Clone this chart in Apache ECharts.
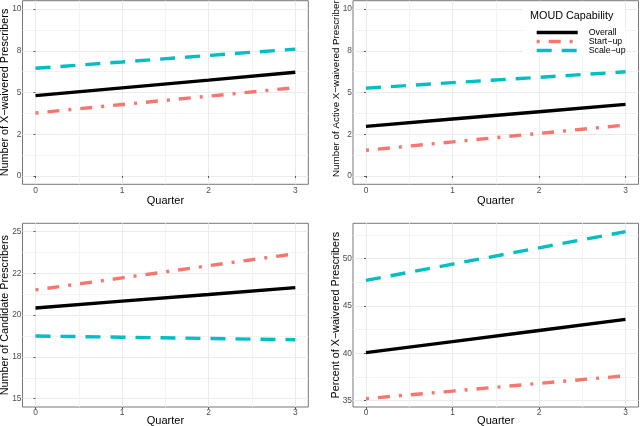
<!DOCTYPE html>
<html>
<head>
<meta charset="utf-8">
<script src="https://cdn.jsdelivr.net/npm/echarts@6/dist/echarts.min.js"></script>
<style>html,body{margin:0;padding:0;background:#fff;}#c{width:640px;height:426px;}</style>
</head>
<body>
<div id="c"></div>
<script>
const quarters = [0, 1, 2, 3];
const seriesNames = ['Overall', 'Start\u2212up', 'Scale\u2212up'];

const p1Overall = [4.81, 5.28, 5.74, 6.21];
const p1Start   = [3.77, 4.28, 4.78, 5.29];
const p1Scale   = [6.45, 6.83, 7.22, 7.60];

const p2Overall = [2.97, 3.41, 3.85, 4.29];
const p2Start   = [1.54, 2.04, 2.55, 3.05];
const p2Scale   = [5.26, 5.59, 5.91, 6.24];

const p3Overall = [20.43, 20.84, 21.24, 21.65];
const p3Start   = [21.51, 22.23, 22.96, 23.68];
const p3Scale   = [18.75, 18.68, 18.60, 18.53];

const p4Overall = [40.06, 41.23, 42.40, 43.57];
const p4Start   = [35.21, 36.01, 36.82, 37.62];
const p4Scale   = [47.69, 49.40, 51.12, 52.83];

const xTickValues = [0, 1, 2, 3];
const xTickLabels = ['0', '1', '2', '3'];
const xGridValues = [0, 0.5, 1, 1.5, 2, 2.5, 3];

const y1TickValues = [0, 2.5, 5, 7.5, 10];
const y1TickLabels = ['0', '2', '5', '8', '10'];
const y1GridValues = [0, 1.25, 2.5, 3.75, 5, 6.25, 7.5, 8.75, 10];

const y3TickValues = [15, 17.5, 20, 22.5, 25];
const y3TickLabels = ['15', '18', '20', '22', '25'];
const y3GridValues = [15, 16.25, 17.5, 18.75, 20, 21.25, 22.5, 23.75, 25];

const y4TickValues = [35, 40, 45, 50];
const y4TickLabels = ['35', '40', '45', '50'];
const y4GridValues = [35, 37.5, 40, 42.5, 45, 47.5, 50, 52.5];

const yTitles = [
  'Number of X\u2212waivered Prescribers',
  'Number of Active X\u2212waivered Prescribers',
  'Number of Candidate Prescribers',
  'Percent of X\u2212waivered Prescribers'
];

const FONT = '"Liberation Sans", Arial, sans-serif';
const colors = ['#000000', '#F8766D', '#00BFC4'];
const dashes = ['solid', [3, 9, 12, 9], [15, 10]];
const LW = 3.4;

const panels = [
  {grid: {left: 22.5, top: 0.7, width: 285.8, height: 183.6}, yMin: -0.5, yMax: 10.5,
   yTicks: y1TickValues, yLabels: y1TickLabels, yGrid: y1GridValues, xGap: 11, yGap: 11.5, yFont: 10.8, yPad: [0, 0, 0, 0],
   data: [p1Overall, p1Start, p1Scale]},
  {grid: {left: 353, top: 0.7, width: 285.5, height: 183.6}, yMin: -0.5, yMax: 10.5,
   yTicks: y1TickValues, yLabels: y1TickLabels, yGrid: y1GridValues, xGap: 11, yGap: 11.3, yFont: 9.8, yPad: [0, 0, 0, 12.6],
   data: [p2Overall, p2Start, p2Scale]},
  {grid: {left: 22.5, top: 223.3, width: 285.8, height: 183.7}, yMin: 14.5, yMax: 25.5,
   yTicks: y3TickValues, yLabels: y3TickLabels, yGrid: y3GridValues, xGap: 8, yGap: 11.5, yFont: 10.8, yPad: [0, 0, 0, 0],
   data: [p3Overall, p3Start, p3Scale]},
  {grid: {left: 353, top: 223.3, width: 285.5, height: 183.7}, yMin: 34.33, yMax: 53.71,
   yTicks: y4TickValues, yLabels: y4TickLabels, yGrid: y4GridValues, xGap: 8, yGap: 11, yFont: 10.8, yPad: [0, 0, 0, 0],
   data: [p4Overall, p4Start, p4Scale]}
];

function labelFor(values, labels) {
  return function (v) {
    for (let i = 0; i < values.length; i++) {
      if (Math.abs(values[i] - v) < 1e-6) return labels[i];
    }
    return '';
  };
}

const grids = [], xAxes = [], yAxes = [], series = [];
const gridColors = ['#EBEBEB', '#F3F3F3'];

panels.forEach(function (p, g) {
  grids.push(Object.assign({show: true, borderColor: '#777', borderWidth: 1, backgroundColor: 'transparent',
    containLabel: false, outerBoundsMode: 'none'}, p.grid));
  xAxes.push({
    type: 'value', gridIndex: g, min: -0.15, max: 3.15, position: 'bottom',
    axisLine: {show: false}, axisLabel: {show: false},
    axisTick: {show: false, customValues: xGridValues},
    splitLine: {show: true, lineStyle: {color: gridColors, width: 1}}
  });
  xAxes.push({
    type: 'value', gridIndex: g, min: -0.15, max: 3.15, position: 'bottom',
    axisLine: {show: false},
    axisTick: {show: true, length: 2, customValues: xTickValues, lineStyle: {color: '#555', width: 1}},
    axisLabel: {show: true, customValues: xTickValues, formatter: labelFor(xTickValues, xTickLabels),
      margin: 2, color: '#4D4D4D', fontSize: 8.4, fontFamily: FONT},
    splitLine: {show: false},
    name: 'Quarter', nameLocation: 'middle', nameGap: p.xGap, nameMoveOverlap: false,
    nameTextStyle: {color: '#000', fontSize: 11, fontFamily: FONT, verticalAlign: 'top'}
  });
  yAxes.push({
    type: 'value', gridIndex: g, min: p.yMin, max: p.yMax, position: 'left',
    axisLine: {show: false}, axisLabel: {show: false},
    axisTick: {show: false, customValues: p.yGrid},
    splitLine: {show: true, lineStyle: {color: gridColors, width: 1}}
  });
  yAxes.push({
    type: 'value', gridIndex: g, min: p.yMin, max: p.yMax, position: 'left',
    axisLine: {show: false},
    axisTick: {show: true, length: 2, customValues: p.yTicks, lineStyle: {color: '#555', width: 1}},
    axisLabel: {show: true, customValues: p.yTicks, formatter: labelFor(p.yTicks, p.yLabels),
      margin: 1, color: '#4D4D4D', fontSize: 8.4, fontFamily: FONT},
    splitLine: {show: false},
    name: yTitles[g], nameLocation: 'middle', nameGap: p.yGap, nameMoveOverlap: false,
    nameTextStyle: {color: '#000', fontSize: p.yFont, fontFamily: FONT, verticalAlign: 'bottom', padding: p.yPad}
  });
  p.data.forEach(function (vals, s) {
    series.push({
      type: 'line', name: seriesNames[s],
      xAxisIndex: 2 * g, yAxisIndex: 2 * g,
      data: quarters.map(function (q, i) { return [q, vals[i]]; }),
      symbol: 'none', silent: true, animation: false,
      lineStyle: {color: colors[s], width: LW, type: dashes[s], cap: 'butt'},
      itemStyle: {color: colors[s]},
      z: 5
    });
  });
});

const chart = echarts.init(document.getElementById('c'), null, {renderer: 'canvas'});
chart.setOption({
  animation: false,
  backgroundColor: '#fff',
  title: {
    text: 'MOUD Capability', left: 530, top: 11,
    textStyle: {fontSize: 10.8, fontWeight: 'normal', color: '#000', fontFamily: FONT},
    padding: 0, z: 20
  },
  legend: {
    data: seriesNames, orient: 'vertical', left: 535, top: 28,
    itemWidth: 41, itemHeight: 8.3, itemGap: 0,
    backgroundColor: '#fff', padding: [0, 0, 0, 0],
    lineStyle: {width: LW},
    itemStyle: {opacity: 0, borderWidth: 0},
    textStyle: {fontSize: 8.8, color: '#000', fontFamily: FONT, lineHeight: 8.3, padding: [0, 0, 0, 6]},
    selectedMode: false, z: 15
  },
  graphic: [{
    type: 'rect', shape: {x: 523, y: 3, width: 102, height: 53},
    style: {fill: '#fff'}, z: 10, silent: true
  }],
  grid: grids, xAxis: xAxes, yAxis: yAxes, series: series
});
</script>
</body>
</html>
